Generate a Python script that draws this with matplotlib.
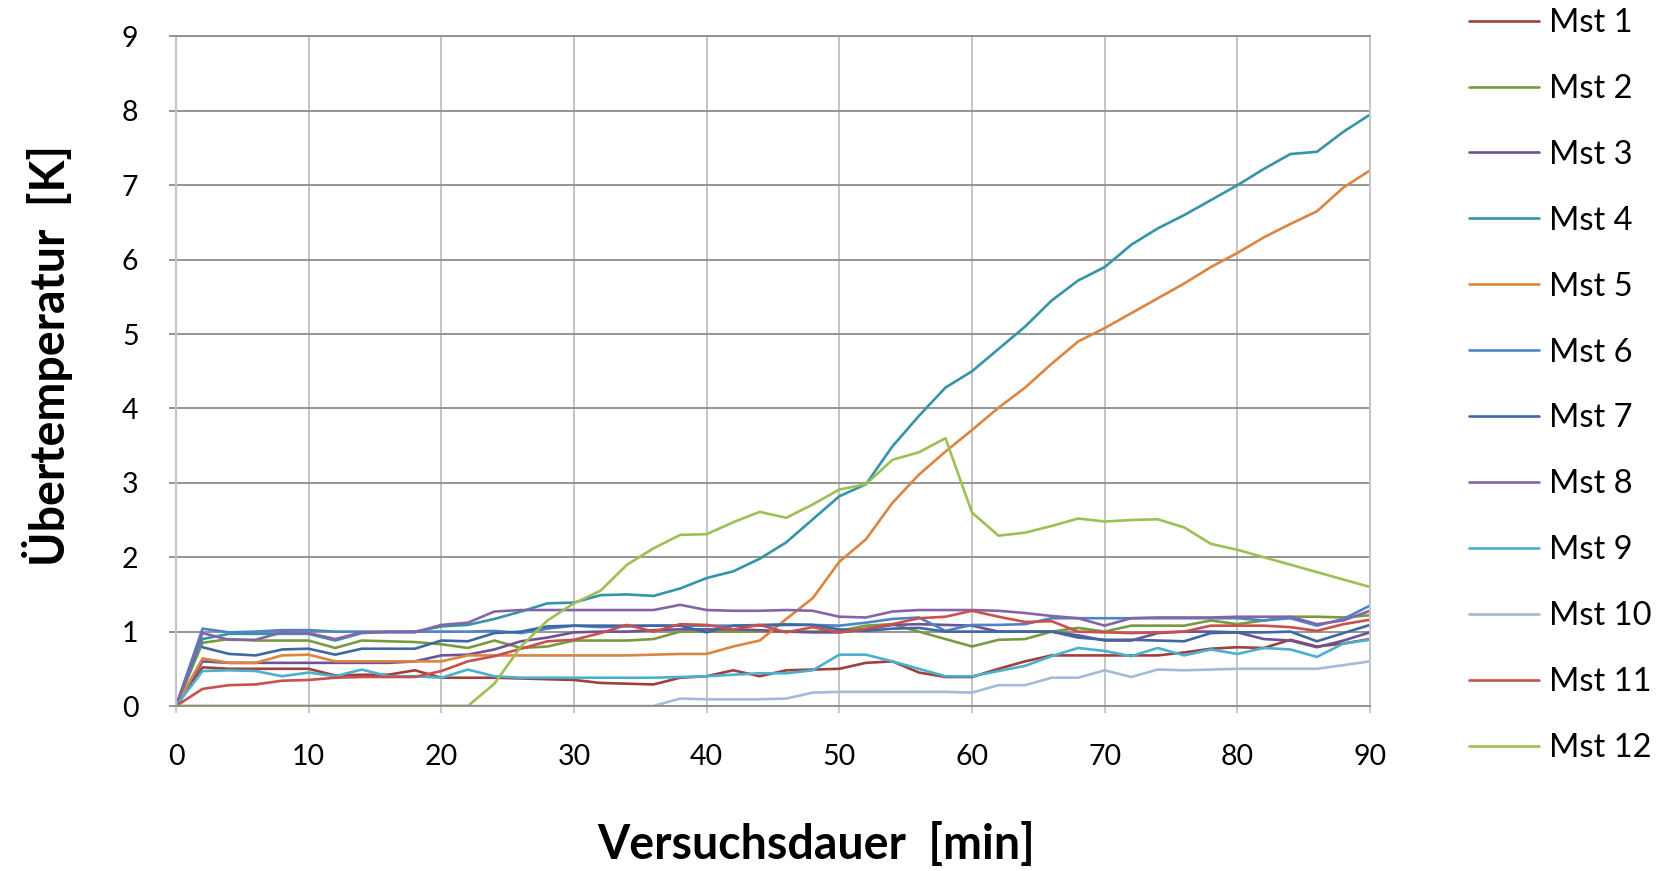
import numpy as np
import matplotlib
matplotlib.use("Agg")
import matplotlib.pyplot as plt

plt.rcParams["font.family"] = ["Lato", "DejaVu Sans"]

# time axis [min], sampled every 2 minutes
t = np.arange(0, 91, 2)

mst1 = [0, 0.52, 0.50, 0.50, 0.50, 0.50, 0.41, 0.42, 0.42, 0.48, 0.38, 0.38, 0.38, 0.37, 0.36, 0.35,
        0.31, 0.30, 0.29, 0.38, 0.40, 0.48, 0.40, 0.48, 0.49, 0.50, 0.58, 0.60, 0.45, 0.39, 0.39, 0.50,
        0.60, 0.68, 0.68, 0.68, 0.68, 0.68, 0.72, 0.77, 0.79, 0.78, 0.89, 0.80, 0.84, 0.90]
mst2 = [0, 0.85, 0.90, 0.88, 0.88, 0.88, 0.78, 0.88, 0.87, 0.86, 0.83, 0.78, 0.88, 0.78, 0.80, 0.88,
        0.88, 0.88, 0.90, 1.00, 1.00, 1.00, 1.00, 1.00, 1.00, 1.01, 1.08, 1.10, 1.00, 0.90, 0.80, 0.89,
        0.90, 1.00, 1.05, 1.00, 1.08, 1.08, 1.08, 1.15, 1.10, 1.15, 1.20, 1.20, 1.19, 1.22]
mst3 = [0, 0.60, 0.58, 0.58, 0.58, 0.58, 0.58, 0.58, 0.58, 0.60, 0.68, 0.69, 0.76, 0.87, 0.92, 0.99,
        1.00, 1.00, 1.02, 1.03, 1.03, 1.03, 1.02, 1.00, 0.99, 0.99, 1.03, 1.09, 1.10, 1.09, 1.08, 1.00,
        1.00, 1.00, 0.95, 0.88, 0.88, 0.98, 1.00, 1.00, 0.99, 0.90, 0.88, 0.79, 0.88, 0.99]
mst4 = [0, 0.90, 0.97, 0.97, 0.97, 0.97, 0.88, 0.98, 1.00, 1.00, 1.07, 1.09, 1.17, 1.27, 1.38, 1.39,
        1.49, 1.50, 1.48, 1.58, 1.72, 1.81, 1.98, 2.20, 2.51, 2.82, 2.98, 3.49, 3.90, 4.28, 4.50, 4.80,
        5.10, 5.45, 5.72, 5.90, 6.20, 6.42, 6.60, 6.80, 7.00, 7.22, 7.42, 7.45, 7.72, 7.95]
mst5 = [0, 0.64, 0.58, 0.58, 0.68, 0.69, 0.60, 0.60, 0.60, 0.60, 0.60, 0.68, 0.68, 0.68, 0.68, 0.68,
        0.68, 0.68, 0.69, 0.70, 0.70, 0.80, 0.88, 1.17, 1.45, 1.94, 2.24, 2.73, 3.11, 3.42, 3.71, 4.01,
        4.28, 4.60, 4.90, 5.08, 5.28, 5.48, 5.68, 5.90, 6.09, 6.30, 6.48, 6.65, 6.97, 7.20]
mst6 = [0, 1.04, 0.99, 1.00, 1.02, 1.02, 1.00, 1.00, 1.00, 1.00, 1.00, 1.00, 1.01, 0.98, 1.04, 1.08,
        1.06, 1.07, 1.08, 1.08, 1.08, 1.08, 1.09, 1.10, 1.09, 1.08, 1.12, 1.17, 1.19, 1.01, 1.09, 1.09,
        1.10, 1.18, 1.18, 1.18, 1.18, 1.18, 1.18, 1.18, 1.18, 1.15, 1.18, 1.08, 1.17, 1.35]
mst7 = [np.nan, 0.79, 0.70, 0.68, 0.76, 0.77, 0.69, 0.77, 0.77, 0.77, 0.88, 0.87, 0.98, 1.00, 1.07, 1.08,
        1.08, 1.08, 1.08, 1.08, 0.99, 1.08, 1.08, 1.09, 1.09, 1.03, 1.01, 1.04, 1.05, 1.00, 1.00, 1.00,
        1.00, 1.00, 0.92, 0.89, 0.89, 0.88, 0.87, 0.98, 0.99, 0.99, 1.00, 0.87, 0.98, 1.09]
mst8 = [0, 0.98, 0.89, 0.89, 0.99, 0.98, 0.90, 0.99, 0.99, 0.99, 1.09, 1.12, 1.27, 1.29, 1.29, 1.29,
        1.29, 1.29, 1.29, 1.36, 1.29, 1.28, 1.28, 1.29, 1.28, 1.20, 1.19, 1.27, 1.29, 1.29, 1.29, 1.28,
        1.25, 1.21, 1.18, 1.08, 1.18, 1.19, 1.19, 1.19, 1.20, 1.20, 1.20, 1.10, 1.15, 1.28]
mst9 = [0, 0.47, 0.48, 0.47, 0.40, 0.45, 0.40, 0.49, 0.40, 0.40, 0.38, 0.49, 0.40, 0.38, 0.38, 0.38,
        0.38, 0.38, 0.38, 0.39, 0.40, 0.42, 0.44, 0.44, 0.48, 0.69, 0.69, 0.60, 0.50, 0.40, 0.40, 0.47,
        0.54, 0.67, 0.78, 0.74, 0.67, 0.78, 0.68, 0.76, 0.70, 0.78, 0.76, 0.66, 0.84, 0.89]
mst10 = [0, 0, 0, 0, 0, 0, 0, 0, 0, 0, 0, 0, 0, 0, 0, 0,
         0, 0, 0, 0.10, 0.09, 0.09, 0.09, 0.10, 0.18, 0.19, 0.19, 0.19, 0.19, 0.19, 0.18, 0.28,
         0.28, 0.38, 0.38, 0.48, 0.39, 0.49, 0.48, 0.49, 0.50, 0.50, 0.50, 0.50, 0.55, 0.60]
mst11 = [0, 0.23, 0.28, 0.29, 0.34, 0.35, 0.38, 0.39, 0.39, 0.39, 0.47, 0.60, 0.67, 0.77, 0.87, 0.89,
         0.98, 1.09, 1.00, 1.10, 1.09, 1.03, 1.09, 0.99, 1.06, 0.99, 1.04, 1.10, 1.18, 1.20, 1.28, 1.20,
         1.13, 1.14, 1.00, 0.99, 0.98, 0.99, 1.00, 1.08, 1.08, 1.08, 1.06, 1.01, 1.10, 1.16]
mst12 = [0, 0, 0, 0, 0, 0, 0, 0, 0, 0, 0, 0, 0.30, 0.80, 1.15, 1.38,
         1.55, 1.90, 2.12, 2.30, 2.31, 2.47, 2.61, 2.53, 2.71, 2.91, 2.98, 3.31, 3.41, 3.60, 2.60, 2.29,
         2.33, 2.42, 2.52, 2.48, 2.50, 2.51, 2.40, 2.18, 2.10, 2.00, 1.90, 1.80, 1.70, 1.60]

series = [mst1, mst2, mst3, mst4, mst5, mst6, mst7, mst8, mst9, mst10, mst11, mst12]
labels = ["Mst %d" % i for i in range(1, 13)]
colors = ["#9E403C", "#7A9A41", "#6E5296", "#3594A8", "#DB8540", "#4F84C4",
          "#3F68A2", "#8466A8", "#4BB0CC", "#A4BAD9", "#C9504C", "#9DBF55"]

fig = plt.figure(figsize=(16.81, 8.71), dpi=100)
ax = fig.add_axes([176 / 1681, 1 - 706 / 871, (1370 - 176) / 1681, (706 - 36.5) / 871])

for vals, lab, col in zip(series, labels, colors):
    ax.plot(t, vals, color=col, lw=1.9, label=lab, solid_capstyle="round")

ax.set_xlim(0, 90)
ax.set_ylim(0, 9)
ax.set_xticks(range(0, 91, 10))
ax.set_yticks(range(0, 10))

ax.yaxis.grid(True, color="#8c8c8c", lw=1.3)
ax.xaxis.grid(True, color="#c4c4c4", lw=1.4)
ax.set_axisbelow(True)
for side in ["top", "bottom"]:
    ax.spines[side].set_color("#8c8c8c")
    ax.spines[side].set_linewidth(1.3)
for side in ["left", "right"]:
    ax.spines[side].set_color("#c4c4c4")
    ax.spines[side].set_linewidth(1.4)

ax.tick_params(axis="y", length=5, width=1.3, color="#8c8c8c", labelsize=20.5, pad=22)
ax.tick_params(axis="x", length=5, width=1.3, color="#c4c4c4", labelsize=20.5, pad=22)

ax.set_xlabel("Versuchsdauer  [min]", fontsize=33.5, fontweight="bold")
ax.set_ylabel("Übertemperatur  [K]", fontsize=33.5, fontweight="bold")
ax.xaxis.set_label_coords(0.536, -0.173)
ax.yaxis.set_label_coords(-0.086, 0.524)

fig.legend(loc="center left", bbox_to_anchor=(1469 / 1681, 1 - 385.5 / 871),
           frameon=False, fontsize=23.5, handlelength=2.15, handletextpad=0.3,
           labelspacing=1.1, borderpad=0, borderaxespad=0)

fig.savefig("out.png", dpi=100)
